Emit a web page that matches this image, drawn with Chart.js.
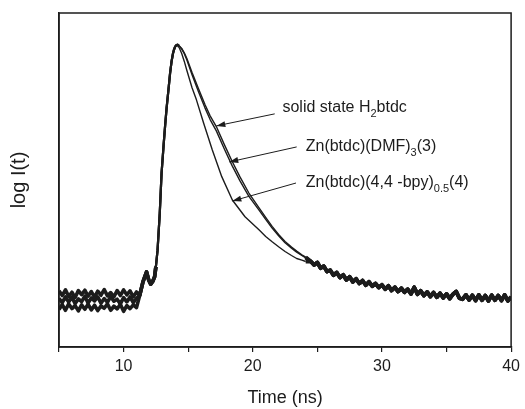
<!DOCTYPE html>
<html>
<head>
<meta charset="utf-8">
<script src="https://cdn.jsdelivr.net/npm/chart.js@4/dist/chart.umd.min.js"></script>
<style>
  body { margin: 0; background: #fff; }
</style>
</head>
<body>
<canvas id="decay" width="525" height="409"></canvas>
<script>
// 前半のベースライン (5〜11 ns)
const baseTimes = [5, 5.25, 5.5, 5.75, 6, 6.25, 6.5, 6.75, 7, 7.25, 7.5, 7.75, 8, 8.25, 8.5, 8.75, 9, 9.25, 9.5, 9.75, 10, 10.25, 10.5, 10.75, 11];
const baseH2 = [16.8, 15.4, 17.1, 15.1, 16.4, 14.8, 16.9, 15.7, 17.0, 15.2, 16.6, 14.9, 16.7, 15.5, 17.2, 15.3, 16.3, 15.0, 16.9, 15.4, 17.1, 15.6, 16.8, 15.0, 16.5];
const baseDmf = [14.6, 13.3, 15.0, 13.5, 14.9, 13.0, 14.4, 13.6, 15.2, 13.2, 14.7, 13.8, 15.0, 13.1, 14.5, 13.4, 15.1, 13.7, 14.3, 12.9, 14.8, 13.5, 15.0, 13.3, 14.6];
const baseBpy = [11.2, 12.7, 11.0, 12.9, 11.5, 12.4, 10.8, 12.6, 11.3, 12.8, 11.1, 12.5, 10.9, 12.3, 11.6, 12.9, 11.0, 12.2, 11.4, 12.8, 10.7, 12.4, 11.5, 12.6, 11.8];

// 立ち上がり (3本ほぼ共通)
const riseTimes = [11.25, 11.5, 11.78, 11.95, 12.1, 12.25, 12.4, 12.5, 12.63, 12.8, 12.94, 13.1, 13.22, 13.33, 13.5, 13.6, 13.71, 13.82, 13.9, 14.0, 14.1, 14.18];
const riseVals = [15.5, 19.5, 22.5, 20.0, 18.8, 19.6, 21.0, 24.0, 29.0, 40.0, 52.0, 60.5, 66.5, 71.5, 78.0, 82.0, 85.4, 87.8, 89.0, 90.0, 90.4, 90.5];

// 減衰部分
const decayTimes = [14.3, 14.5, 14.7, 14.9, 15.3, 15.8, 16.3, 16.7, 17.18, 17.8, 18.4, 19.0, 19.7, 20.5, 21.0, 21.5, 22.0, 22.5, 23.0, 23.4, 23.8, 24.1];
const decayH2 = [90.2, 89.4, 88.1, 86.4, 82.2, 77.3, 72.6, 69.2, 66.0, 60.6, 55.6, 51.0, 46.1, 41.6, 38.8, 36.1, 33.7, 31.6, 29.9, 28.7, 27.6, 26.9];
const decayDmf = [90.1, 89.2, 87.8, 85.9, 81.5, 76.4, 71.6, 68.1, 64.7, 59.3, 54.3, 49.8, 45.1, 40.9, 38.2, 35.6, 33.3, 31.2, 29.6, 28.4, 27.4, 26.7];
const decayBpyTimes = [14.3, 14.5, 14.7, 14.9, 15.3, 15.64, 16.2, 16.87, 17.6, 18.42, 19.4, 20.5, 21.0, 21.5, 22.0, 22.5, 23.0, 23.4, 23.8, 24.1];
const decayBpy = [89.7, 87.9, 85.5, 82.8, 77.6, 74.0, 67.0, 59.0, 51.0, 44.0, 39.0, 35.0, 33.1, 31.5, 30.0, 28.6, 27.4, 26.5, 26.0, 25.6];

// 後半のテール (3本が重なる)
const tailTimes = [24.5, 24.75, 25, 25.25, 25.5, 25.75, 26, 26.25, 26.5, 26.75, 27, 27.25, 27.5, 27.75, 28, 28.25, 28.5, 28.75, 29, 29.25, 29.5, 29.75, 30, 30.25, 30.5, 30.75, 31, 31.25, 31.5, 31.75, 32, 32.25, 32.5, 32.75, 33, 33.25, 33.5, 33.75, 34, 34.25, 34.5, 34.75, 35, 35.25, 35.5, 35.75, 36, 36.25, 36.5, 36.75, 37, 37.25, 37.5, 37.75, 38, 38.25, 38.5, 38.75, 39, 39.25, 39.5, 39.75, 40];
const tailVals = [25.6, 24.6, 25.3, 23.6, 24.2, 22.6, 23.0, 21.5, 22.3, 20.8,
                  21.6, 20.1, 21.0, 19.5, 20.4, 19.0, 19.9, 18.5, 19.5, 18.2,
                  19.0, 17.8, 18.6, 17.3, 18.3, 16.9, 17.9, 16.6, 17.6, 16.4,
                  17.3, 15.9, 17.9, 15.8, 16.8, 15.4, 16.5, 15.1, 16.3, 14.9,
                  16.1, 14.7, 15.9, 14.5, 15.8, 16.6, 14.6, 14.3, 15.6, 14.1,
                  15.5, 13.9, 15.6, 14.0, 15.4, 13.8, 15.5, 14.0, 15.4, 13.9,
                  15.6, 13.8, 15.0];

const xTicks = [10, 20, 30, 40];

// 注記
const noteTexts = [['solid state H', '2', 'btdc'], ['Zn(btdc)(DMF)', '3', '(3)'], ['Zn(btdc)(4,4 -bpy)', '0.5', '(4)']];
const noteAt = [[22.3, 71.6], [24.1, 59.9], [24.1, 49.1]];
const arrowFrom = [[21.7, 69.8], [23.4, 59.9], [23.35, 49.1]];
const arrowTo = [[17.18, 66.2], [18.18, 55.4], [18.42, 43.7]];

const ink = '#1c1c1c';
const fontFamily = '"Liberation Sans", Arial, sans-serif';

function pts(times, vals) {
    return times.map((t, i) => ({ x: t, y: vals[i] }));
}

function series(base, decayT, decayV) {
    return pts(baseTimes, base)
        .concat(pts(riseTimes, riseVals))
        .concat(pts(decayT, decayV))
        .concat(pts(tailTimes, tailVals));
}

// ノイズ部分は太く
function noisyWidth(c) {
    const x0 = c.p0.parsed.x;
    if (x0 < 12.5) return 3.6;
    if (x0 >= 24.1) return 3.8;
    if (x0 < 14.3) return 2.2;
    return 1.4;
}

const frame = {
    id: 'frame',
    afterDatasetsDraw(chart) {
        const { ctx, chartArea: a } = chart;
        ctx.save();
        ctx.strokeStyle = ink;
        ctx.lineWidth = 1.5;
        ctx.strokeRect(a.left, a.top, a.right - a.left, a.bottom - a.top);
        ctx.restore();
    }
};

const notes = {
    id: 'notes',
    afterDatasetsDraw(chart) {
        const { ctx, scales: { x, y } } = chart;
        ctx.save();
        ctx.fillStyle = ink;
        ctx.strokeStyle = ink;
        ctx.textAlign = 'left';
        ctx.textBaseline = 'middle';
        noteTexts.forEach((parts, i) => {
            const tx = x.getPixelForValue(noteAt[i][0]);
            const ty = y.getPixelForValue(noteAt[i][1]);
            ctx.font = '16px ' + fontFamily;
            ctx.fillText(parts[0], tx, ty);
            let cx = tx + ctx.measureText(parts[0]).width;
            ctx.font = '11px ' + fontFamily;
            ctx.fillText(parts[1], cx, ty + 6);
            cx += ctx.measureText(parts[1]).width;
            ctx.font = '16px ' + fontFamily;
            ctx.fillText(parts[2], cx, ty);

            const x0 = x.getPixelForValue(arrowFrom[i][0]);
            const y0 = y.getPixelForValue(arrowFrom[i][1]);
            const x1 = x.getPixelForValue(arrowTo[i][0]);
            const y1 = y.getPixelForValue(arrowTo[i][1]);
            const ang = Math.atan2(y1 - y0, x1 - x0);
            ctx.lineWidth = 1;
            ctx.beginPath();
            ctx.moveTo(x0, y0);
            ctx.lineTo(x1, y1);
            ctx.stroke();
            const hl = 9, hw = 3;
            const bx = x1 - hl * Math.cos(ang), by = y1 - hl * Math.sin(ang);
            ctx.beginPath();
            ctx.moveTo(x1, y1);
            ctx.lineTo(bx - hw * Math.sin(ang), by + hw * Math.cos(ang));
            ctx.lineTo(bx + hw * Math.sin(ang), by - hw * Math.cos(ang));
            ctx.closePath();
            ctx.fill();
        });
        ctx.restore();
    }
};

const lineStyle = {
    borderColor: ink,
    borderWidth: 1.4,
    borderJoinStyle: 'round',
    pointRadius: 0,
    fill: false,
    tension: 0,
    segment: { borderWidth: noisyWidth }
};

new Chart(document.getElementById('decay').getContext('2d'), {
    type: 'line',
    data: {
        datasets: [
            Object.assign({ label: 'solid state H2btdc', data: series(baseH2, decayTimes, decayH2) }, lineStyle),
            Object.assign({ label: 'Zn(btdc)(DMF)3(3)', data: series(baseDmf, decayTimes, decayDmf) }, lineStyle),
            Object.assign({ label: 'Zn(btdc)(4,4-bpy)0.5(4)', data: series(baseBpy, decayBpyTimes, decayBpy) }, lineStyle)
        ]
    },
    options: {
        responsive: false,
        animation: false,
        layout: { padding: { top: 13, right: 13, left: 0, bottom: 0 } },
        plugins: {
            legend: { display: false },
            tooltip: { enabled: false }
        },
        scales: {
            x: {
                type: 'linear',
                min: 5,
                max: 40,
                ticks: {
                    stepSize: 5,
                    autoSkip: false,
                    maxRotation: 0,
                    padding: 5,
                    color: ink,
                    font: { family: fontFamily, size: 16 },
                    callback: v => xTicks.includes(v) ? String(v) : ''
                },
                grid: { drawOnChartArea: false, drawTicks: true, tickLength: 5, color: ink, lineWidth: 1.2 },
                border: { display: true, color: ink, width: 1.5 },
                title: { display: true, text: 'Time (ns)', color: ink, font: { family: fontFamily, size: 18 }, padding: 0 },
                afterFit: s => { s.height = 62; }
            },
            y: {
                min: 0,
                max: 100,
                ticks: { display: false },
                grid: { display: false },
                border: { display: true, color: ink, width: 1.5 },
                title: { display: true, text: 'log I(t)', color: ink, font: { family: fontFamily, size: 20 }, padding: { top: 7, bottom: 0 } },
                afterFit: s => { s.width = 59; }
            }
        }
    },
    plugins: [frame, notes]
});
</script>
</body>
</html>
